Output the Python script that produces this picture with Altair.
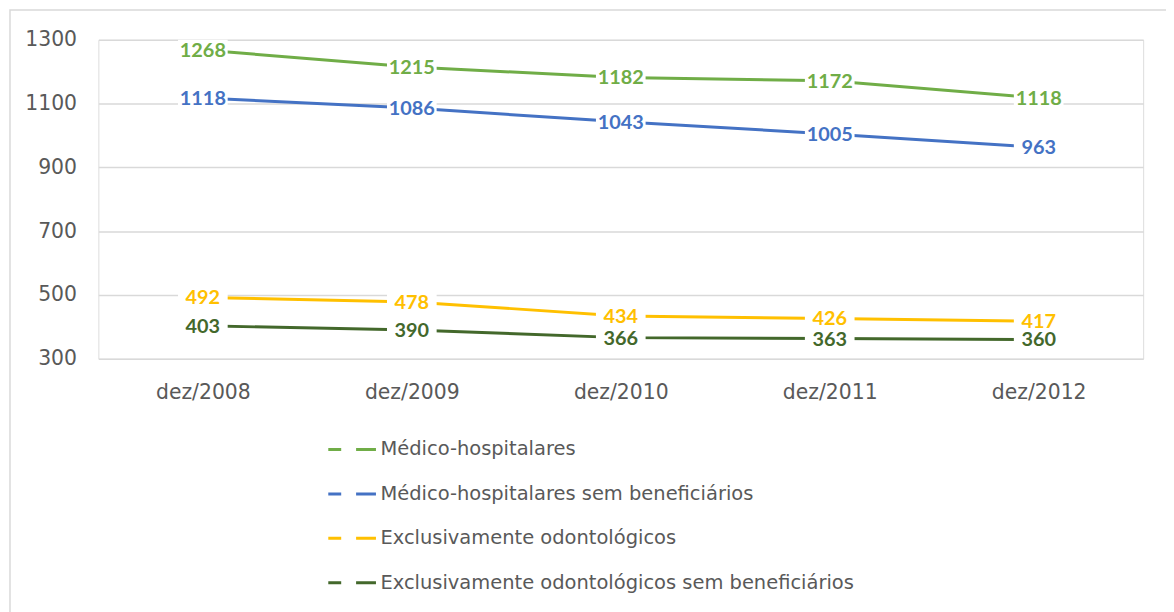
import altair as alt
import pandas as pd

categories = ["dez/2008", "dez/2009", "dez/2010", "dez/2011", "dez/2012"]
series_names = [
    "Médico-hospitalares",
    "Médico-hospitalares sem beneficiários",
    "Exclusivamente odontológicos",
    "Exclusivamente odontológicos sem beneficiários",
]
medico = [1268, 1215, 1182, 1172, 1118]
medico_sem = [1118, 1086, 1043, 1005, 963]
odonto = [492, 478, 434, 426, 417]
odonto_sem = [403, 390, 366, 363, 360]
colors = ["#70AD47", "#4472C4", "#FFC000", "#43682B"]
y_ticks = [300, 500, 700, 900, 1100, 1300]

rows = []
for name, vals in zip(series_names, [medico, medico_sem, odonto, odonto_sem]):
    for c, v in zip(categories, vals):
        rows.append({"cat": c, "serie": name, "valor": v})
df = pd.DataFrame(rows)

FONT = "DejaVu Sans"
LFONT = "Lato"
GRAY = "#595959"

x_enc = alt.X("cat:N", sort=categories, title=None,
              scale=alt.Scale(type="point", padding=0.5),
              axis=alt.Axis(labelAngle=0, labelFontSize=20.5, labelColor=GRAY, labelFont=FONT,
                            domain=False, ticks=False, labelPadding=24, grid=False))
y_enc = alt.Y("valor:Q", title=None,
              scale=alt.Scale(domain=[300, 1300], nice=False, zero=False),
              axis=alt.Axis(values=y_ticks, format="d", labelFontSize=20.5, labelColor=GRAY,
                            labelFont=FONT, domain=False, ticks=False, labelPadding=22,
                            gridColor="#D9D9D9", gridWidth=1.5))
color_enc = alt.Color("serie:N", sort=series_names,
                      scale=alt.Scale(domain=series_names, range=colors),
                      legend=alt.Legend(title=None, orient="none", legendX=230, legendY=387,
                                        direction="vertical", symbolType="stroke",
                                        symbolSize=2304, symbolStrokeWidth=3,
                                        symbolDash=[13, 15, 20], labelOffset=3,
                                        labelFontSize=19.6, labelColor=GRAY, labelFont=FONT,
                                        rowPadding=8.7, padding=0, labelLimit=0))

base = alt.Chart(df)

lines = base.mark_line(strokeWidth=3).encode(x=x_enc, y=y_enc, color=color_enc)

boxes = base.mark_point(shape="M-1,-0.42H1V0.42H-1Z", size=2500, filled=True,
                        fill="white", opacity=1, strokeWidth=0).encode(
    x=alt.X("cat:N", sort=categories), y="valor:Q")

texts = base.mark_text(fontSize=20, fontWeight="bold", font=LFONT, align="center",
                       baseline="middle", dy=1).encode(
    x=alt.X("cat:N", sort=categories), y="valor:Q", text="valor:Q",
    color=alt.Color("serie:N", scale=alt.Scale(domain=series_names, range=colors), legend=None))

frame = alt.Chart(pd.DataFrame({"a": [0]})).mark_rect(
    fill="white", fillOpacity=0, stroke="#D9D9D9", strokeWidth=1.5).encode(
    x=alt.value(-89), x2=alt.value(1120), y=alt.value(-30), y2=alt.value(620))

chart = alt.layer(frame, lines, boxes, texts).properties(
    width=1052, height=321,
    autosize=alt.AutoSizeParams(type="none"),
    padding={"left": 91, "top": 30, "right": 23, "bottom": 253},
).configure_view(stroke=None).configure(background="white")

chart.save("out.html", embed_options={"renderer": "svg", "actions": False})
